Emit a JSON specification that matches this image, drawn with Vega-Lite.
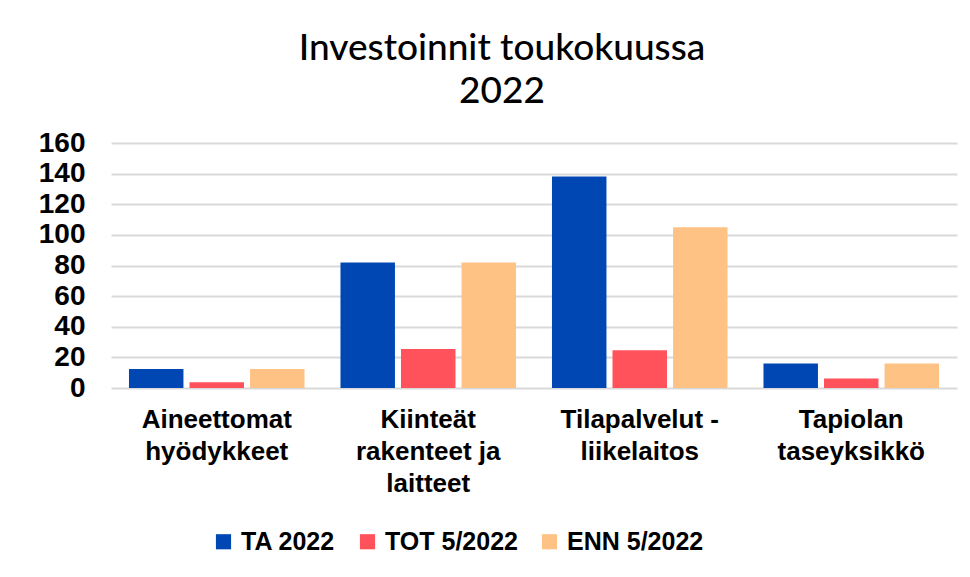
{
  "$schema": "https://vega.github.io/schema/vega-lite/v6.json",
  "width": 846,
  "height": 245,
  "autosize": {"type": "none"},
  "padding": {"left": 111, "top": 143, "right": 13, "bottom": 189},
  "background": "white",
  "title": {
    "text": ["Investoinnit toukokuussa", "2022"],
    "font": "Lato",
    "fontSize": 37,
    "fontWeight": 500,
    "color": "#000000",
    "anchor": "middle",
    "dx": -32,
    "offset": 18,
    "lineHeight": 43
  },
  "data": {
    "values": [
      {"group": "Aineettomat|hyödykkeet", "series": "TA 2022", "value": 12.4},
      {"group": "Aineettomat|hyödykkeet", "series": "TOT 5/2022", "value": 3.7},
      {"group": "Aineettomat|hyödykkeet", "series": "ENN 5/2022", "value": 12.4},
      {"group": "Kiinteät|rakenteet ja|laitteet", "series": "TA 2022", "value": 82},
      {"group": "Kiinteät|rakenteet ja|laitteet", "series": "TOT 5/2022", "value": 25.5},
      {"group": "Kiinteät|rakenteet ja|laitteet", "series": "ENN 5/2022", "value": 82},
      {"group": "Tilapalvelut -|liikelaitos", "series": "TA 2022", "value": 138.2},
      {"group": "Tilapalvelut -|liikelaitos", "series": "TOT 5/2022", "value": 24.7},
      {"group": "Tilapalvelut -|liikelaitos", "series": "ENN 5/2022", "value": 105},
      {"group": "Tapiolan|taseyksikkö", "series": "TA 2022", "value": 16},
      {"group": "Tapiolan|taseyksikkö", "series": "TOT 5/2022", "value": 6.2},
      {"group": "Tapiolan|taseyksikkö", "series": "ENN 5/2022", "value": 16}
    ]
  },
  "mark": {"type": "bar"},
  "encoding": {
    "x": {
      "field": "group",
      "type": "nominal",
      "sort": null,
      "scale": {"paddingInner": 0.17, "paddingOuter": 0.085},
      "axis": {
        "title": null,
        "labelAngle": 0,
        "labelExpr": "split(datum.label, '|')",
        "labelFont": "Liberation Sans",
        "labelFontSize": 26,
        "labelFontWeight": "bold",
        "labelColor": "#000000",
        "labelLineHeight": 32,
        "labelPadding": 18,
        "labelBaseline": "top",
        "domain": false,
        "ticks": false
      }
    },
    "xOffset": {
      "field": "series",
      "type": "nominal",
      "sort": ["TA 2022", "TOT 5/2022", "ENN 5/2022"],
      "scale": {"paddingInner": 0.1}
    },
    "y": {
      "field": "value",
      "type": "quantitative",
      "scale": {"domain": [0, 160]},
      "axis": {
        "title": null,
        "values": [0, 20, 40, 60, 80, 100, 120, 140, 160],
        "labelFont": "Liberation Sans",
        "labelFontSize": 28,
        "labelFontWeight": "bold",
        "labelColor": "#000000",
        "labelPadding": 26,
        "domain": false,
        "ticks": false,
        "grid": true,
        "gridColor": "#d9d9d9",
        "gridWidth": 2
      }
    },
    "color": {
      "field": "series",
      "type": "nominal",
      "sort": ["TA 2022", "TOT 5/2022", "ENN 5/2022"],
      "scale": {
        "domain": ["TA 2022", "TOT 5/2022", "ENN 5/2022"],
        "range": ["#0047B3", "#FF525B", "#FFC285"]
      },
      "legend": {
        "title": null,
        "orient": "none",
        "direction": "horizontal",
        "legendX": 100,
        "legendY": 386,
        "symbolType": "square",
        "symbolSize": 230,
        "symbolStrokeWidth": 0,
        "labelFont": "Liberation Sans",
        "labelFontSize": 25,
        "labelFontWeight": "bold",
        "labelColor": "#000000",
        "labelOffset": 5,
        "columnPadding": 19
      }
    }
  },
  "config": {
    "view": {"stroke": null}
  }
}
